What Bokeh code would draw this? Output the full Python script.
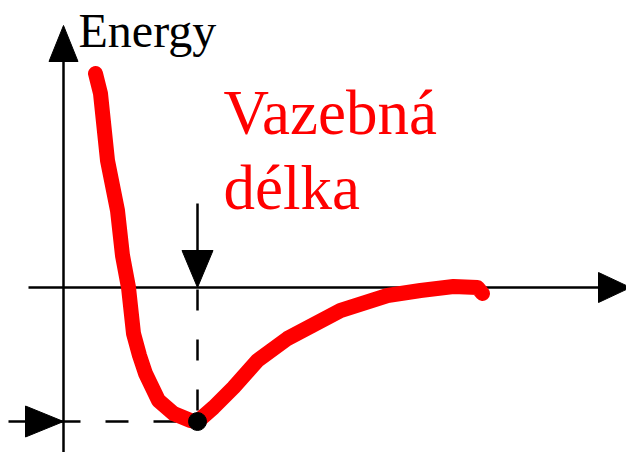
from bokeh.plotting import figure
from bokeh.models import Range1d
from bokeh.core.properties import value
from bokeh.embed import file_html
from bokeh.resources import INLINE

# Potential energy curve (r = distance, E = energy), schematic units
curve_r = [32, 37, 44, 54, 59, 65, 70, 76, 82, 95, 110, 127, 134, 150, 170, 194, 224, 277, 324, 357, 390, 414, 419]
curve_E = [214, 194, 127, 77, 32, 0, -46, -68, -86, -113, -126, -133, -134, -120, -100, -73, -51, -23, -8, -3, 1, 0, -6]

# equilibrium (bond length r0, minimum energy E0)
r0 = [134]
E0 = [-134]

axis_label = "Energy"
title_lines = ["Vazebná", "délka"]

FONT = '"Liberation Serif", "Times New Roman", Times, serif'

p = figure(width=626, height=452, output_backend="svg", toolbar_location=None,
           x_range=Range1d(-63, 563), y_range=Range1d(-165, 287),
           min_border=0)
p.axis.visible = False
p.grid.visible = False
p.outline_line_color = None
p.background_fill_color = "white"
p.border_fill_color = "white"


def tri(tip_x, tip_y, dx, dy, length, half_w):
    # triangle head pointing in direction (dx, dy) with tip at (tip_x, tip_y)
    bx, by = tip_x - dx * length, tip_y - dy * length
    px, py = -dy * half_w, dx * half_w
    return [tip_x, bx + px, bx - px], [tip_y, by + py, by - py]


# axes
p.line([-35, 537], [0, 0], line_color="black", line_width=2.5)
p.line([0, 0], [-170, 228], line_color="black", line_width=2.5)
heads_x, heads_y = [], []
for args in [(0, 262, 0, 1, 36, 14.5), (567, 0, 1, 0, 32, 15),
             (r0[0], 0, 0, -1, 37, 15.5), (0, E0[0], 1, 0, 38, 15.5)]:
    hx, hy = tri(*args)
    heads_x.append(hx)
    heads_y.append(hy)

# marker arrows (shafts)
p.line([r0[0], r0[0]], [84, 30], line_color="black", line_width=2.5)
p.line([-55, -36], [E0[0], E0[0]], line_color="black", line_width=2.5)

# dashed guides
p.line([-6, r0[0]], [E0[0], E0[0]], line_color="black", line_width=2.5, line_dash="23 25")
p.line([r0[0], r0[0]], [-2, E0[0]], line_color="black", line_width=2.5, line_dash="21 29")

p.patches(heads_x, heads_y, fill_color="black", line_color="black", line_width=1)

# curve
p.line(curve_r, curve_E, line_color="#ff0000", line_width=15, line_cap="round", line_join="round")

# minimum point
p.scatter(r0, E0, size=18, fill_color="black", line_color="black")

# texts
p.text([15], [257], text=[axis_label], text_font=value(FONT), text_font_size="48px",
       text_color="black", text_baseline="alphabetic", text_align="left")
p.text([160, 160], [175, 100], text=title_lines, text_font=value(FONT), text_font_size="63px",
       text_color="#ff0000", text_baseline="alphabetic", text_align="left")

open("out.html", "w").write(file_html(p, INLINE))
